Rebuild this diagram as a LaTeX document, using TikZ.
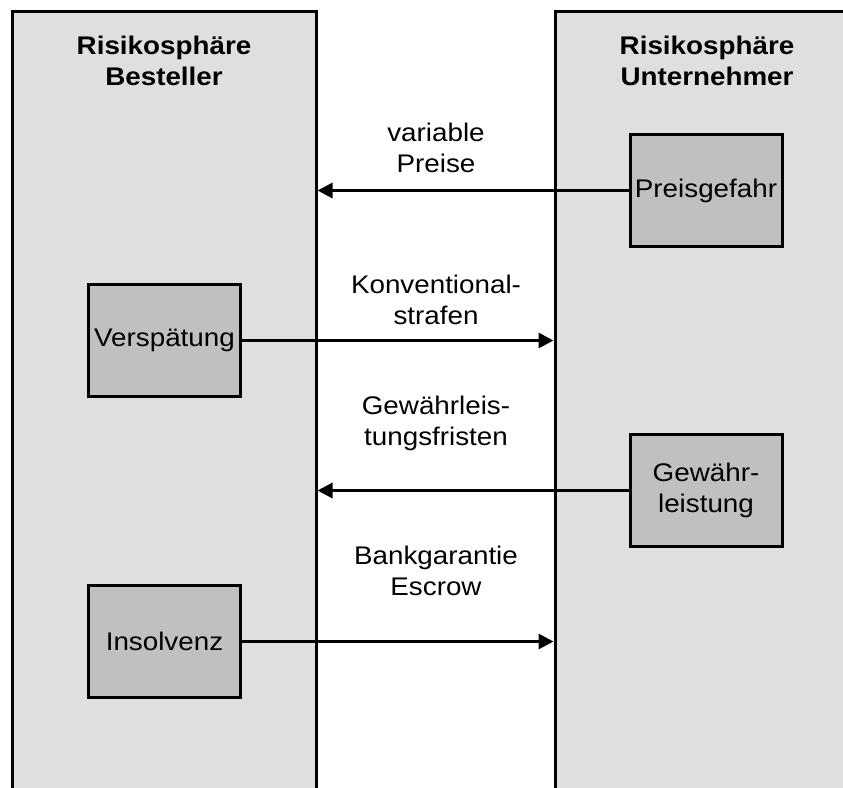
\documentclass[tikz,border=0pt]{standalone}
\usepackage{fontspec}
\setmainfont[FakeStretch=1.09]{Liberation Sans}
\usetikzlibrary{arrows.meta}
\definecolor{panelgray}{RGB}{223,223,223}
\definecolor{boxgray}{RGB}{192,192,192}
\newcommand\diagfont{\fontsize{25.5pt}{31pt}\selectfont}
\begin{document}
\begin{tikzpicture}[x=1pt,y=-1pt,
  edge/.style={line width=3pt},
  risk/.style={draw, line width=3pt, fill=boxgray, minimum width=152pt,
    minimum height=112pt, inner sep=0pt, align=center, font=\diagfont},
  lbl/.style={align=center, inner sep=0pt, font=\diagfont},
  head/.style={align=center, inner sep=0pt, font=\diagfont\bfseries},
  flow/.style={line width=3pt, -{Triangle[length=15pt,width=15pt]}}]
  \useasboundingbox (0,0) rectangle (843,787);
  \clip (0,0) rectangle (843,787);

  % the two risk spheres, open at the bottom (and the right one at the right)
  \fill[panelgray] (12.5,11.5) rectangle (316,800);
  \draw[edge] (12.5,800) -- (12.5,11.5) -- (316,11.5) -- (316,800);
  \fill[panelgray] (555,11.5) rectangle (850,800);
  \draw[edge] (555,800) -- (555,11.5) -- (850,11.5);

  \coordinate (Ledge) at (317.5,0);
  \coordinate (Redge) at (553.5,0);

  \node[head] (hB) at (164,61) {Risikosphäre\\Besteller};
  \node[head] (hU) at (707,61) {Risikosphäre\\Unternehmer};

  % risks
  \node[risk] (pg) at (706,190.5) {Preisgefahr};
  \node[risk] (gw) at (706,490.5) {Gewähr-\\leistung};
  \node[risk] (vs) at (164.5,340.5) {Verspätung};
  \node[risk] (in) at (164.5,641.5) {Insolvenz};

  % transfer of risks between the spheres
  \draw[flow] (pg.west) -- (pg.west -| Ledge);
  \draw[flow] (vs.east) -- (vs.east -| Redge);
  \draw[flow] (gw.west) -- (gw.west -| Ledge);
  \draw[flow] (in.east) -- (in.east -| Redge);

  \node[lbl] (t1) at (436,148) {variable\\Preise};
  \node[lbl] (t2) at (436,300) {Konventional-\\strafen};
  \node[lbl] (t3) at (436,423) {Gewährleis-\\tungsfristen};
  \node[lbl] (t4) at (436,571) {Bankgarantie\\Escrow};
\end{tikzpicture}
\end{document}
